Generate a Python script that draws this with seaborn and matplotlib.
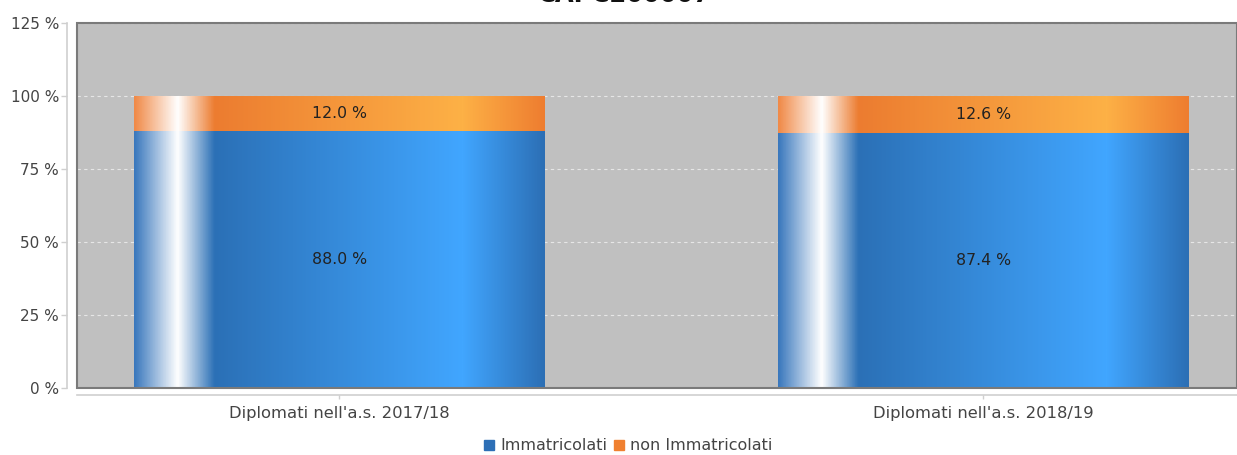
import numpy as np
import pandas as pd
import matplotlib
matplotlib.use("Agg")
import matplotlib.pyplot as plt
from matplotlib.colors import LinearSegmentedColormap
from matplotlib.lines import Line2D
import seaborn as sns

# Data
categories = ["Diplomati nell'a.s. 2017/18", "Diplomati nell'a.s. 2018/19"]
immatricolati = [88.0, 87.4]
non_immatricolati = [12.0, 12.6]
series_names = ["Immatricolati", "non Immatricolati"]
title_text = "CAPC200007"

blue = "#2d6fb6"
orange = "#f08030"

sns.set_theme(style="white")
plt.rcParams["font.family"] = ["DejaVu Sans"]

W, H = 1237, 455
fig = plt.figure(figsize=(W / 100, H / 100), dpi=100)
ax = fig.add_axes([77 / W, (H - 388) / H, (W - 77) / W, (388 - 23) / H])
ax.set_facecolor("#c0c0c0")

df = pd.DataFrame({
    "cat": categories,
    "total": [a + b for a, b in zip(immatricolati, non_immatricolati)],
    "imm": immatricolati,
})

bw = 0.637
sns.barplot(data=df, x="cat", y="total", color=orange, width=bw,
            saturation=1, ax=ax, zorder=2, linewidth=0)
sns.barplot(data=df, x="cat", y="imm", color=blue, width=bw,
            saturation=1, ax=ax, zorder=2, linewidth=0)

# Horizontal shading across each bar
stops = [0.0, 0.105, 0.195, 0.80, 1.0]
cmap_blue = LinearSegmentedColormap.from_list(
    "b", list(zip(stops, ["#3a78bd", "#ffffff", "#2b70b6", "#41a6ff", "#2c6fb5"])))
cmap_orange = LinearSegmentedColormap.from_list(
    "o", list(zip(stops, ["#f08a48", "#ffffff", "#ec7c30", "#fdb146", "#ee7d30"])))
grad = np.linspace(0, 1, 512).reshape(1, -1)

n = len(categories)
for i, p in enumerate(ax.patches):
    x0, y0 = p.get_x(), p.get_y()
    w, h = p.get_width(), p.get_height()
    cmap = cmap_orange if i < n else cmap_blue
    im = ax.imshow(grad, cmap=cmap, aspect="auto", extent=[x0, x0 + w, y0, y0 + h],
                   zorder=2.5, interpolation="bilinear")
    im.set_clip_path(p)

# Value labels
for i in range(n):
    ax.text(i, immatricolati[i] / 2, f"{immatricolati[i]:.1f} %", ha="center",
            va="center", fontsize=11.3, color="#222222", zorder=5)
    ax.text(i, immatricolati[i] + non_immatricolati[i] / 2, f"{non_immatricolati[i]:.1f} %",
            ha="center", va="center", fontsize=11.3, color="#222222", zorder=5)

ax.set_xlim(-0.407, 1.394)
ax.set_ylim(0, 125)
ax.set_yticks([0, 25, 50, 75, 100, 125])
ax.set_yticklabels([f"{t} %" for t in [0, 25, 50, 75, 100, 125]])
ax.set_xlabel("")
ax.set_ylabel("")

ax.yaxis.grid(True, color="#e6e6e6", linestyle=(0, (3, 3)), linewidth=0.8, zorder=1)
ax.set_axisbelow(True)
ax.grid(axis="x", visible=False)

for s in ["top", "right"]:
    ax.spines[s].set_visible(False)
ax.spines["left"].set_position(("outward", 7))
ax.spines["bottom"].set_position(("outward", 5))
ax.spines["left"].set_color("#cfcfcf")
ax.spines["bottom"].set_color("#cfcfcf")
ax.spines["left"].set_linewidth(1.2)
ax.spines["bottom"].set_linewidth(1.2)

ax.tick_params(axis="y", length=4, width=1, color="#cfcfcf", labelsize=11,
               labelcolor="#444444", pad=2, left=True)
ax.tick_params(axis="x", length=3, width=1, color="#cfcfcf", labelsize=11.8,
               labelcolor="#444444", pad=5, bottom=True)

# Plot-area frame
frame = plt.Rectangle((0, 0), 1, 1, transform=ax.transAxes, fill=False,
                      edgecolor="#7a7a7a", linewidth=1.5, zorder=6, clip_on=False)
ax.add_patch(frame)

# Title (clipped at the top edge)
fig.text(624 / W, 453.5 / H, title_text, ha="center", va="baseline",
         fontsize=17.5, fontweight="bold", color="#111111")

handles = [Line2D([], [], marker="s", linestyle="", markersize=7, color=blue),
           Line2D([], [], marker="s", linestyle="", markersize=7, color=orange)]
fig.legend(handles, series_names, loc="center", bbox_to_anchor=(628 / W, 1 - 446 / H),
           ncol=2, frameon=False, fontsize=11.5, handlelength=0.7, handletextpad=0.35,
           columnspacing=0.35, labelcolor="#444444")

fig.savefig("out.png", dpi=100)
